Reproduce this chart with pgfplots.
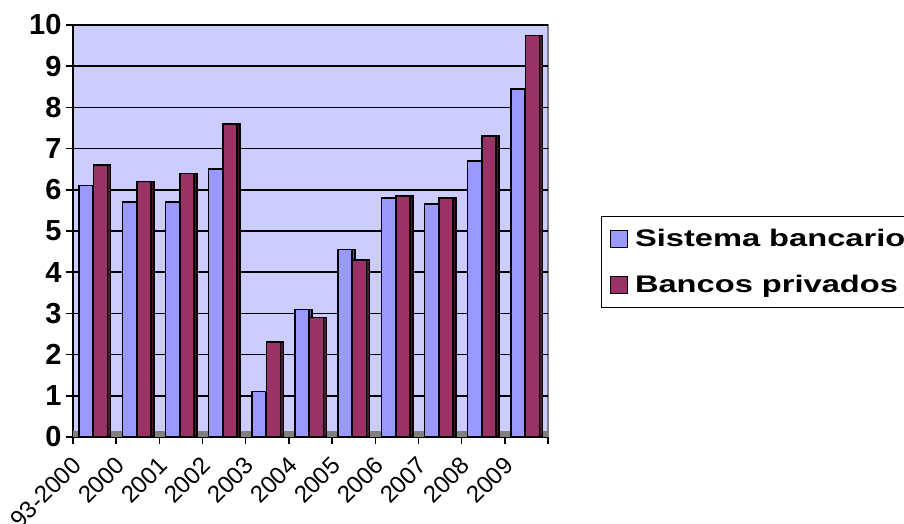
\documentclass[border=0pt]{standalone}
\usepackage{pgfplots}
\usepackage{pgfplotstable}
\pgfplotsset{compat=1.18}
\usepackage{fontspec}
\setmainfont{Liberation Sans}

\definecolor{wall}{HTML}{CCCCFF}
\definecolor{sisblue}{HTML}{9999FF}
\definecolor{privred}{HTML}{993366}
\definecolor{sisside}{HTML}{5C5CA8}
\definecolor{privside}{HTML}{4A1830}

% percentages by year
\pgfplotstableread{
x sis priv
0 6.1 6.6
1 5.7 6.2
2 5.7 6.4
3 6.5 7.6
4 1.1 2.3
5 3.1 2.9
6 4.55 4.3
7 5.8 5.85
8 5.65 5.8
9 6.7 7.3
10 8.45 9.75
}\datatable

\begin{document}
\begin{tikzpicture}
\useasboundingbox (-73pt,-86pt) rectangle (831pt,437pt);
\begin{axis}[
    at={(0,0)}, anchor=south west,
    scale only axis,
    width=475pt, height=412pt,
    xmin=-0.5, xmax=10.5,
    ymin=0, ymax=10,
    axis x line*=bottom,
    axis y line*=left,
    axis line style={-, black, line width=2pt},
    axis background/.style={fill=wall, draw=gray, line width=1.5pt},
    ytick={0,1,...,10},
    xtick={-0.5,0.5,...,10.5},
    xticklabels={93-2000,2000,2001,2002,2003,2004,2005,2006,2007,2008,2009,{}},
    ymajorgrids,
    major grid style={black, line width=1.5pt},
    tick align=outside,
    major tick length=7pt,
    tick style={black, line width=1.5pt},
    /pgf/number format/assume math mode=true,
    yticklabel style={font=\fontsize{29}{30}\selectfont\bfseries, xshift=-1pt},
    xticklabel style={font=\fontsize{24}{26}\selectfont, rotate=45, anchor=east, xshift=-6pt, yshift=-15pt},
    area legend,
    legend image code/.code={\draw[#1, line width=1.5pt] (0pt,-8.5pt) rectangle (17pt,8.5pt);},
    legend style={
      at={(1.1116,0.5364)}, anchor=north west,
      draw=black, line width=1pt, fill=white,
      font=\fontsize{24}{27}\selectfont\bfseries,
      row sep=23pt, inner xsep=8pt, inner ysep=11pt,
      /tikz/every odd column/.append style={column sep=5pt},
      /tikz/every even column/.append style={column sep=12pt},
    },
    legend cell align=left,
]
\fill[gray] (axis description cs:0,0) rectangle (axis description cs:1,0.014);

% side faces
\addplot[ybar, bar width=14pt, bar shift=-5.5pt, fill=sisside, draw=black, line width=1.5pt, forget plot]
    table[x=x, y=sis]{\datatable};
\addplot[ybar, bar width=14pt, bar shift=9pt, fill=privside, draw=black, line width=1.5pt, forget plot]
    table[x=x, y=priv]{\datatable};

% front faces
\addplot[ybar, bar width=14pt, bar shift=-8.5pt, fill=sisblue, draw=black, line width=1.5pt]
    table[x=x, y=sis]{\datatable};
\addlegendentry{\scalebox{1.36}[1]{Sistema bancario}}
\addplot[ybar, bar width=14pt, bar shift=6pt, fill=privred, draw=black, line width=1.5pt]
    table[x=x, y=priv]{\datatable};
\addlegendentry{\scalebox{1.36}[1]{Bancos privados}}
\end{axis}
\end{tikzpicture}
\end{document}
